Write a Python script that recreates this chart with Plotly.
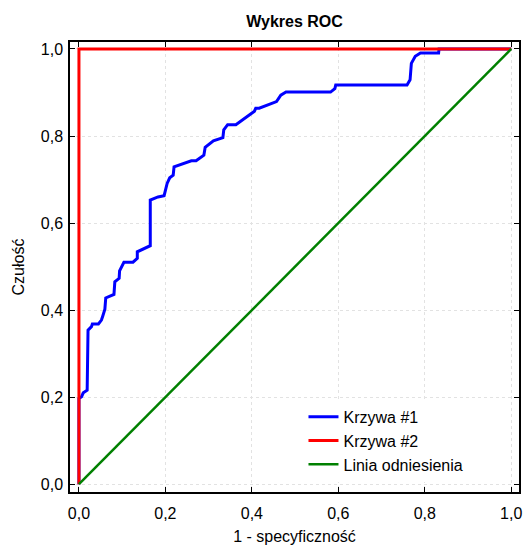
import plotly.graph_objects as go

# ROC curve for the first classifier (false positive rate vs. true positive rate)
fpr_1 = [0.0, 0.0, 0.006, 0.010, 0.019, 0.021, 0.029, 0.031, 0.045, 0.052, 0.055, 0.060,
         0.062, 0.081, 0.083, 0.093, 0.094, 0.104, 0.125, 0.135, 0.135, 0.165, 0.165,
         0.183, 0.197, 0.204, 0.210, 0.218, 0.220, 0.260, 0.271, 0.289, 0.292, 0.311,
         0.333, 0.335, 0.344, 0.363, 0.406, 0.409, 0.417, 0.457, 0.467, 0.479, 0.582,
         0.592, 0.594, 0.759, 0.766, 0.769, 0.778, 0.790, 0.832, 0.833, 1.0]
tpr_1 = [0.0, 0.197, 0.201, 0.210, 0.216, 0.354, 0.362, 0.368, 0.368, 0.377, 0.386, 0.402,
         0.428, 0.436, 0.465, 0.473, 0.490, 0.510, 0.510, 0.519, 0.534, 0.548, 0.653,
         0.660, 0.663, 0.691, 0.704, 0.710, 0.729, 0.743, 0.743, 0.756, 0.774, 0.789,
         0.796, 0.814, 0.826, 0.826, 0.857, 0.864, 0.864, 0.879, 0.894, 0.901, 0.901,
         0.909, 0.917, 0.917, 0.929, 0.967, 0.983, 0.991, 0.991, 1.0, 1.0]

# ROC curve for the second (perfect) classifier
fpr_2 = [0.0, 0.0, 1.0]
tpr_2 = [0.0, 1.0, 1.0]

# Reference (chance) diagonal
fpr_ref = [0.0, 1.0]
tpr_ref = [0.0, 1.0]

tick_vals = [0.0, 0.2, 0.4, 0.6, 0.8, 1.0]
tick_text = ["0,0", "0,2", "0,4", "0,6", "0,8", "1,0"]

FONT = "Liberation Sans, Arial, sans-serif"

fig = go.Figure()
fig.add_trace(go.Scatter(x=fpr_1, y=tpr_1, mode="lines", name="Krzywa #1",
                         line=dict(color="#0000ff", width=3)))
fig.add_trace(go.Scatter(x=fpr_2, y=tpr_2, mode="lines", name="Krzywa #2",
                         line=dict(color="#ff0000", width=3)))
fig.add_trace(go.Scatter(x=fpr_ref, y=tpr_ref, mode="lines", name="Linia odniesienia",
                         line=dict(color="#008000", width=2.5)))

axis_common = dict(
    tickvals=tick_vals, ticktext=tick_text,
    ticks="inside", ticklen=5, tickwidth=1, tickcolor="black",
    showline=True, linecolor="black", linewidth=1.5, mirror="ticks",
    showgrid=True, gridcolor="#e2e2e2", griddash="dot", gridwidth=1,
    zeroline=False, tickfont=dict(size=16, color="black", family=FONT),
)

fig.update_xaxes(range=[-0.0207, 1.018], ticklabelstandoff=6,
                 title=dict(text="1 - specyficzność", font=dict(size=16, color="black", family=FONT), standoff=10),
                 **axis_common)
fig.update_yaxes(range=[-0.018, 1.016], ticklabelstandoff=2,
                 title=dict(text="Czułość", font=dict(size=16, color="black", family=FONT), standoff=12),
                 **axis_common)

fig.update_layout(
    width=523, height=547,
    margin=dict(l=70, r=2, t=42, b=55),
    paper_bgcolor="white", plot_bgcolor="white",
    font=dict(family=FONT, color="black"),
    title=dict(text="<b>Wykres ROC</b>", x=0.5, xref="paper", xanchor="center",
               y=1 - 21 / 547, yanchor="middle", font=dict(size=16, color="black", family=FONT)),
    legend=dict(x=0.52, y=0.205, xanchor="left", yanchor="top",
                bgcolor="white", borderwidth=0,
                font=dict(size=16, color="black", family=FONT),
                tracegroupgap=0, itemwidth=30),
    showlegend=True,
)

fig.write_html("out.html")
